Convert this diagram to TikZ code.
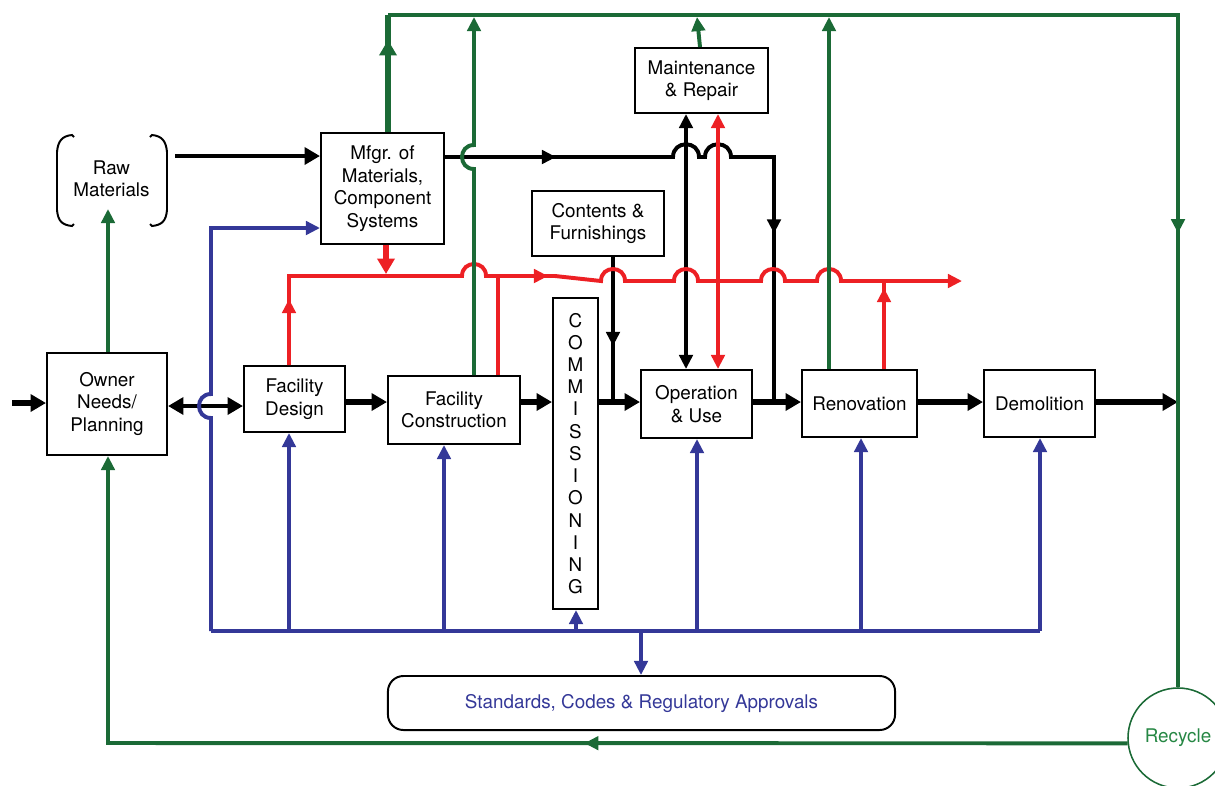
\documentclass[tikz,border=0pt]{standalone}
\usepackage{fontspec}
\setmainfont{TeX Gyre Heros}
\usetikzlibrary{arrows.meta,decorations.markings}

\definecolor{lcgreen}{RGB}{27,106,54}
\definecolor{lcgreentext}{RGB}{38,135,68}
\definecolor{lcred}{RGB}{237,32,36}
\definecolor{lcblue}{RGB}{52,56,152}

\tikzset{
  bigtip/.tip={Triangle[length=11pt,width=12pt]},
  tip/.tip={Triangle[length=10pt,width=9.5pt]},
  box/.style={draw, line width=1.4pt, fill=white, align=center, inner sep=0pt,
    font=\fontsize{13.4}{16}\selectfont},
  mainflow/.style={draw=black, line width=4.2pt, -bigtip},
  blackline/.style={draw=black, line width=2.8pt},
  redline/.style={draw=lcred, line width=2.8pt},
  greenline/.style={draw=lcgreen, line width=2.8pt},
  blueline/.style={draw=lcblue, line width=2.8pt},
  midarrow/.style={postaction={decorate, decoration={markings,
    mark=at position #1 with {\arrow{tip}}}}},
}

\begin{document}
\begin{tikzpicture}[x=0.025cm, y=-0.025cm]
\useasboundingbox (0,0) rectangle (1215,785);

% ---- process boxes ----
\node[box, minimum width=3cm, minimum height=2.55cm] (owner) at (107,404) {Owner\\Needs/\\Planning};
\node[box, minimum width=2.525cm, minimum height=1.65cm] (design) at (294.5,399) {Facility\\Design};
\node[box, minimum width=3.3cm, minimum height=1.7cm] (constr) at (454,410) {Facility\\Construction};
\node[box, minimum width=1.125cm, minimum height=7.775cm, font=\fontsize{13.4}{15.8}\selectfont] (comm) at (575.5,453.5)
  {C\\O\\M\\M\\I\\S\\S\\I\\O\\N\\I\\N\\G};
\node[box, minimum width=2.775cm, minimum height=1.7cm] (oper) at (696.5,404) {Operation\\\& Use};
\node[box, minimum width=2.875cm, minimum height=1.675cm] (renov) at (859.5,403.5) {Renovation};
\node[box, minimum width=2.775cm, minimum height=1.675cm] (demol) at (1039.5,403.5) {Demolition};
\node[box, minimum width=3.075cm, minimum height=2.775cm] (mfgr) at (382.5,188.5) {Mfgr. of\\Materials,\\Component\\Systems};
\node[box, minimum width=3.325cm, minimum height=1.625cm] (maint) at (701.5,80.5) {Maintenance\\\& Repair};
\node[box, minimum width=3.3cm, minimum height=1.625cm] (contents) at (598,223.5) {Contents \&\\Furnishings};

% raw materials between brackets
\node[align=center, inner sep=0pt, minimum width=2.775cm, minimum height=2.275cm,
  font=\fontsize{13.4}{16}\selectfont] (raw) at (111.5,179) {Raw\\Materials};
\draw[line width=1.4pt] (74,137) -- (72,135) .. controls (62,136) and (58,141) .. (57,152) -- (57,210)
  .. controls (58,221) and (62,225) .. (72,226) -- (74,224);
\draw[line width=1.4pt] (150,137) -- (152,135) .. controls (162,136) and (166,141) .. (167,152) -- (167,210)
  .. controls (166,221) and (162,225) .. (152,226) -- (150,224);

% standards and recycling
\node[draw, line width=1.4pt, rounded corners=11pt, minimum width=12.675cm, minimum height=1.35cm,
  text=lcblue, font=\fontsize{13.4}{16}\selectfont] (std) at (641.5,703) {Standards, Codes \& Regulatory Approvals};
\node[draw=lcgreen, circle, line width=1.1pt, minimum size=2.5cm, inner sep=0pt, text=lcgreentext,
  font=\fontsize{13.4}{16}\selectfont] (recyc) at (1178,738) {Recycle};

% ---- main life-cycle flow ----
\coordinate (fy) at (0,402);
\draw[mainflow] (12,403) -- (owner.west |- 0,403);
\draw[draw=black, line width=3.5pt, bigtip-bigtip] (owner.east |- 0,406) -- (design.west |- 0,406);
\draw[mainflow] (design.east |- fy) -- (constr.west |- fy);
\draw[mainflow] (constr.east |- fy) -- (comm.west |- fy);
\draw[mainflow] (comm.east |- fy) -- (oper.west |- fy);
\draw[mainflow] (oper.east |- fy) -- (renov.west |- fy);
\draw[mainflow] (renov.east |- fy) -- (demol.west |- fy);
\draw[mainflow] (demol.east |- fy) -- (1178,402);

% ---- material supply (black) ----
\draw[draw=black, line width=3.5pt, -bigtip] ([xshift=0.2cm]raw.east |- 0,156) -- (mfgr.west |- 0,156);
\draw[blackline, postaction={decorate, decoration={markings,
    mark=at position 2.775cm with {\arrow{tip}},
    mark=at position 10.875cm with {\arrow{tip}}}}]
  (mfgr.east |- 0,157) -- (673,157) .. controls (673,140) and (699,140) .. (699,157)
  -- (705,157) .. controls (705,140) and (731,140) .. (731,157) -- (774,157) -- (774,402);
\draw[blackline, midarrow=2.225cm] (contents.south -| 613,0) -- (613,402);
\draw[blackline, tip-tip] (oper.north -| 686,0) -- (maint.south -| 686,0);

% ---- design information (red) ----
\draw[redline, -tip, postaction={decorate, decoration={markings,
    mark=at position 1.65cm with {\arrow{tip}},
    mark=at position 9.05cm with {\arrow{tip}}}}]
  (design.north -| 289,0) -- (289,276) -- (462,276) .. controls (462,260) and (486,260) .. (486,276)
  -- (555,276) -- (601,281) .. controls (601,265) and (625,265) .. (625,281)
  -- (674,281) .. controls (674,265) and (698,265) .. (698,281)
  -- (761,281) .. controls (761,265) and (785,265) .. (785,281)
  -- (817,281) .. controls (817,265) and (841,265) .. (841,281) -- (962,281);
\draw[draw=lcred, line width=4.2pt, -bigtip] (mfgr.south -| 386,0) -- (386,274);
\draw[redline] (constr.north -| 498,0) -- (498,276);
\draw[redline, midarrow=2.025cm] (renov.north -| 884,0) -- (884,281);
\draw[redline, tip-tip] (oper.north -| 718,0) -- (maint.south -| 718,0);

% ---- recovery of materials (green) ----
\draw[draw=lcgreen, line width=2.5pt, midarrow=25.2cm] (388,15) -- (1178,15) -- (recyc.north);
\draw[draw=lcgreen, line width=4.2pt, postaction={decorate, decoration={markings,
    mark=at position 2.3cm with {\arrow{bigtip}}}}] (mfgr.north -| 388,0) -- (388,15);
\draw[greenline, -tip] (constr.north -| 474,0) -- (474,169) .. controls (458,169) and (458,145) .. (474,145) -- (474,17);
\draw[greenline, -tip] (maint.north -| 700,0) -- (697,17);
\draw[greenline, -tip] (renov.north -| 829,0) -- (829,17);
\draw[greenline, -tip] (owner.north -| 108,0) -- (108,209);
\draw[greenline, -tip, midarrow=13.575cm] (recyc.186) -- (108,743) -- (owner.south -| 108,0);

% ---- standards and approvals (blue) ----
\draw[blueline] (211,631) -- (1040,631);
\draw[blueline, -tip] (211,631) -- (211,418) .. controls (195,418) and (195,394) .. (211,394)
  -- (211,228) -- (mfgr.west |- 0,228);
\draw[blueline, -tip] (289,631) -- (design.south -| 289,0);
\draw[blueline, -tip] (444,631) -- (constr.south -| 444,0);
\draw[blueline, -tip] (576,631) -- (comm.south -| 576,0);
\draw[blueline, -tip] (697,631) -- (oper.south -| 697,0);
\draw[blueline, -tip] (861,631) -- (renov.south -| 861,0);
\draw[blueline, -tip] (1040,631) -- (demol.south -| 1040,0);
\draw[blueline, -tip] (641,631) -- (std.north -| 641,0);
\end{tikzpicture}
\end{document}
